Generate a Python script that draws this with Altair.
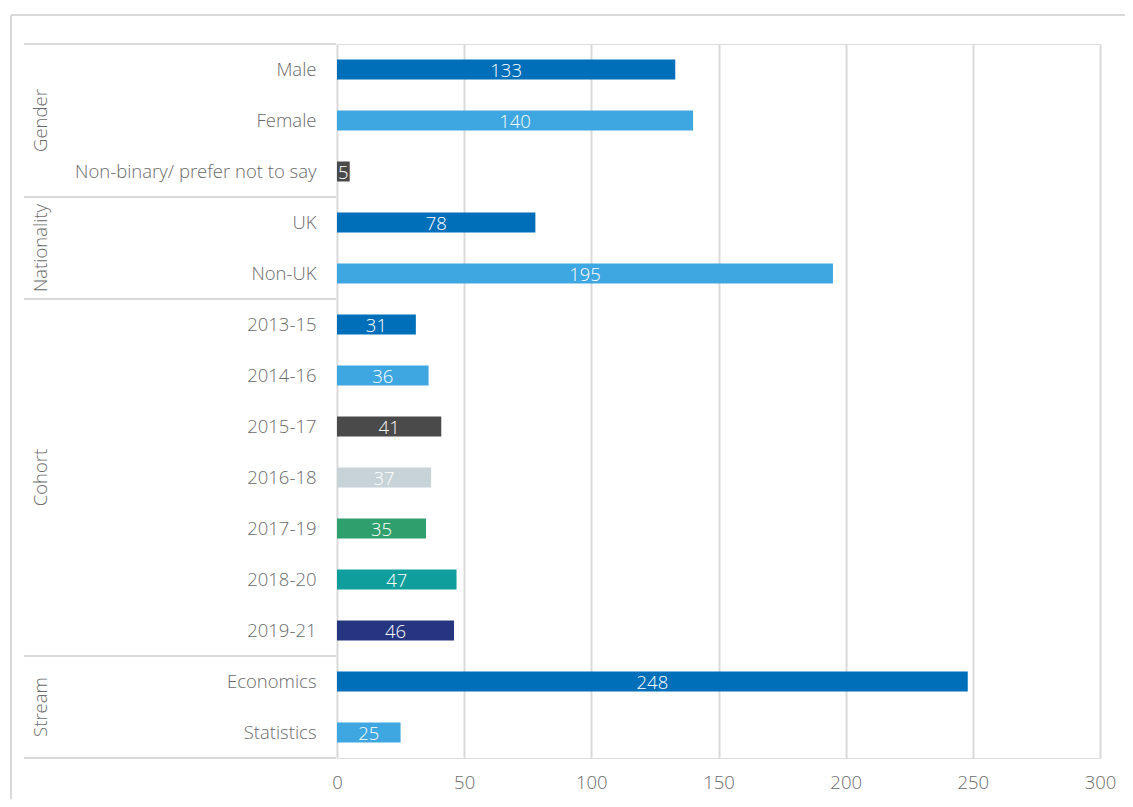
import altair as alt
import pandas as pd

categories = ["Male", "Female", "Non-binary/ prefer not to say", "UK", "Non-UK",
              "2013-15", "2014-16", "2015-17", "2016-18", "2017-19", "2018-20", "2019-21",
              "Economics", "Statistics"]
values = [133, 140, 5, 78, 195, 31, 36, 41, 37, 35, 47, 46, 248, 25]
group_names = ["Gender", "Nationality", "Cohort", "Stream"]
group_sizes = [3, 2, 7, 2]
colors = ["#006fba", "#3ea6e0", "#4a4a4a", "#006fba", "#3ea6e0",
          "#006fba", "#3ea6e0", "#4a4a4a", "#c8d3d8", "#2fa06d", "#109e9c", "#263580",
          "#006fba", "#3ea6e0"]
x_ticks = [0, 50, 100, 150, 200, 250, 300]

FONT = "Open Sans"
FS = 18.5
GREY = "#d9d9d9"
TXT = "#6b6b6b"

df = pd.DataFrame({"cat": categories, "idx": list(range(len(categories))),
                   "value": values, "color": colors})

# group boundaries / centres derived from group sizes
bounds = [-0.5]
centres = []
start = 0
for s in group_sizes:
    centres.append(start + (s - 1) / 2)
    start += s
    bounds.append(start - 0.5)
bdf = pd.DataFrame({"b": bounds})
gdf = pd.DataFrame({"g": group_names, "c": centres})

label_expr = "[" + ",".join("'" + c + "'" for c in categories) + "][datum.value]"

yscale = alt.Scale(domain=[-0.5, len(categories) - 0.5], reverse=True, nice=False,
                   zero=False, padding=0)
xscale = alt.Scale(domain=[0, 300], nice=False, padding=0)

bars = alt.Chart(df).mark_bar(size=20, orient="horizontal").encode(
    y=alt.Y("idx:Q", scale=yscale,
            axis=alt.Axis(values=list(range(len(categories))), labelExpr=label_expr,
                          title=None, ticks=False, domain=False, grid=False,
                          labelFont=FONT, labelFontSize=FS, labelColor=TXT,
                          labelPadding=21, labelFontWeight=300, labelLimit=0)),
    x=alt.X("value:Q", scale=xscale,
            axis=alt.Axis(values=x_ticks, title=None, ticks=False, domain=False,
                          grid=True, gridColor=GREY, gridWidth=2, labelFlush=False,
                          labelFont=FONT, labelFontSize=FS, labelColor=TXT,
                          labelPadding=15, labelFontWeight=300)),
    color=alt.Color("color:N", scale=None),
)

bar_text = alt.Chart(df).transform_calculate(mid="datum.value / 2").mark_text(
    font=FONT, fontSize=FS, color="white", baseline="middle", dy=1, fontWeight=300
).encode(
    y=alt.Y("idx:Q", scale=yscale),
    x=alt.X("mid:Q", scale=xscale),
    text="value:Q",
)

sep = alt.Chart(bdf).mark_rule(color=GREY, strokeWidth=2).encode(
    y=alt.Y("b:Q", scale=yscale),
    x=alt.value(-313),
    x2=alt.value(-1),
)

glabels = alt.Chart(gdf).mark_text(
    font=FONT, fontSize=FS, color=TXT, angle=270, align="center",
    baseline="middle", fontWeight=300
).encode(
    y=alt.Y("c:Q", scale=yscale),
    x=alt.value(-296),
    text="g:N",
)

one = pd.DataFrame({"k": [0]})
frame_top = alt.Chart(one).mark_rule(color=GREY, strokeWidth=2).encode(
    x=alt.value(-326), x2=alt.value(900), y=alt.value(-29)
)
frame_left = alt.Chart(one).mark_rule(color=GREY, strokeWidth=2).encode(
    y=alt.value(-29), y2=alt.value(900), x=alt.value(-326)
)

chart = alt.layer(frame_top, frame_left, sep, bars, bar_text, glabels).properties(
    width=763, height=714,
    padding={"left": 329, "top": 36, "right": 25, "bottom": 41},
    autosize=alt.AutoSizeParams(type="none"),
).configure_view(stroke=None).configure(background="white")

chart.save("out.html", embed_options={"renderer": "svg", "actions": False})
